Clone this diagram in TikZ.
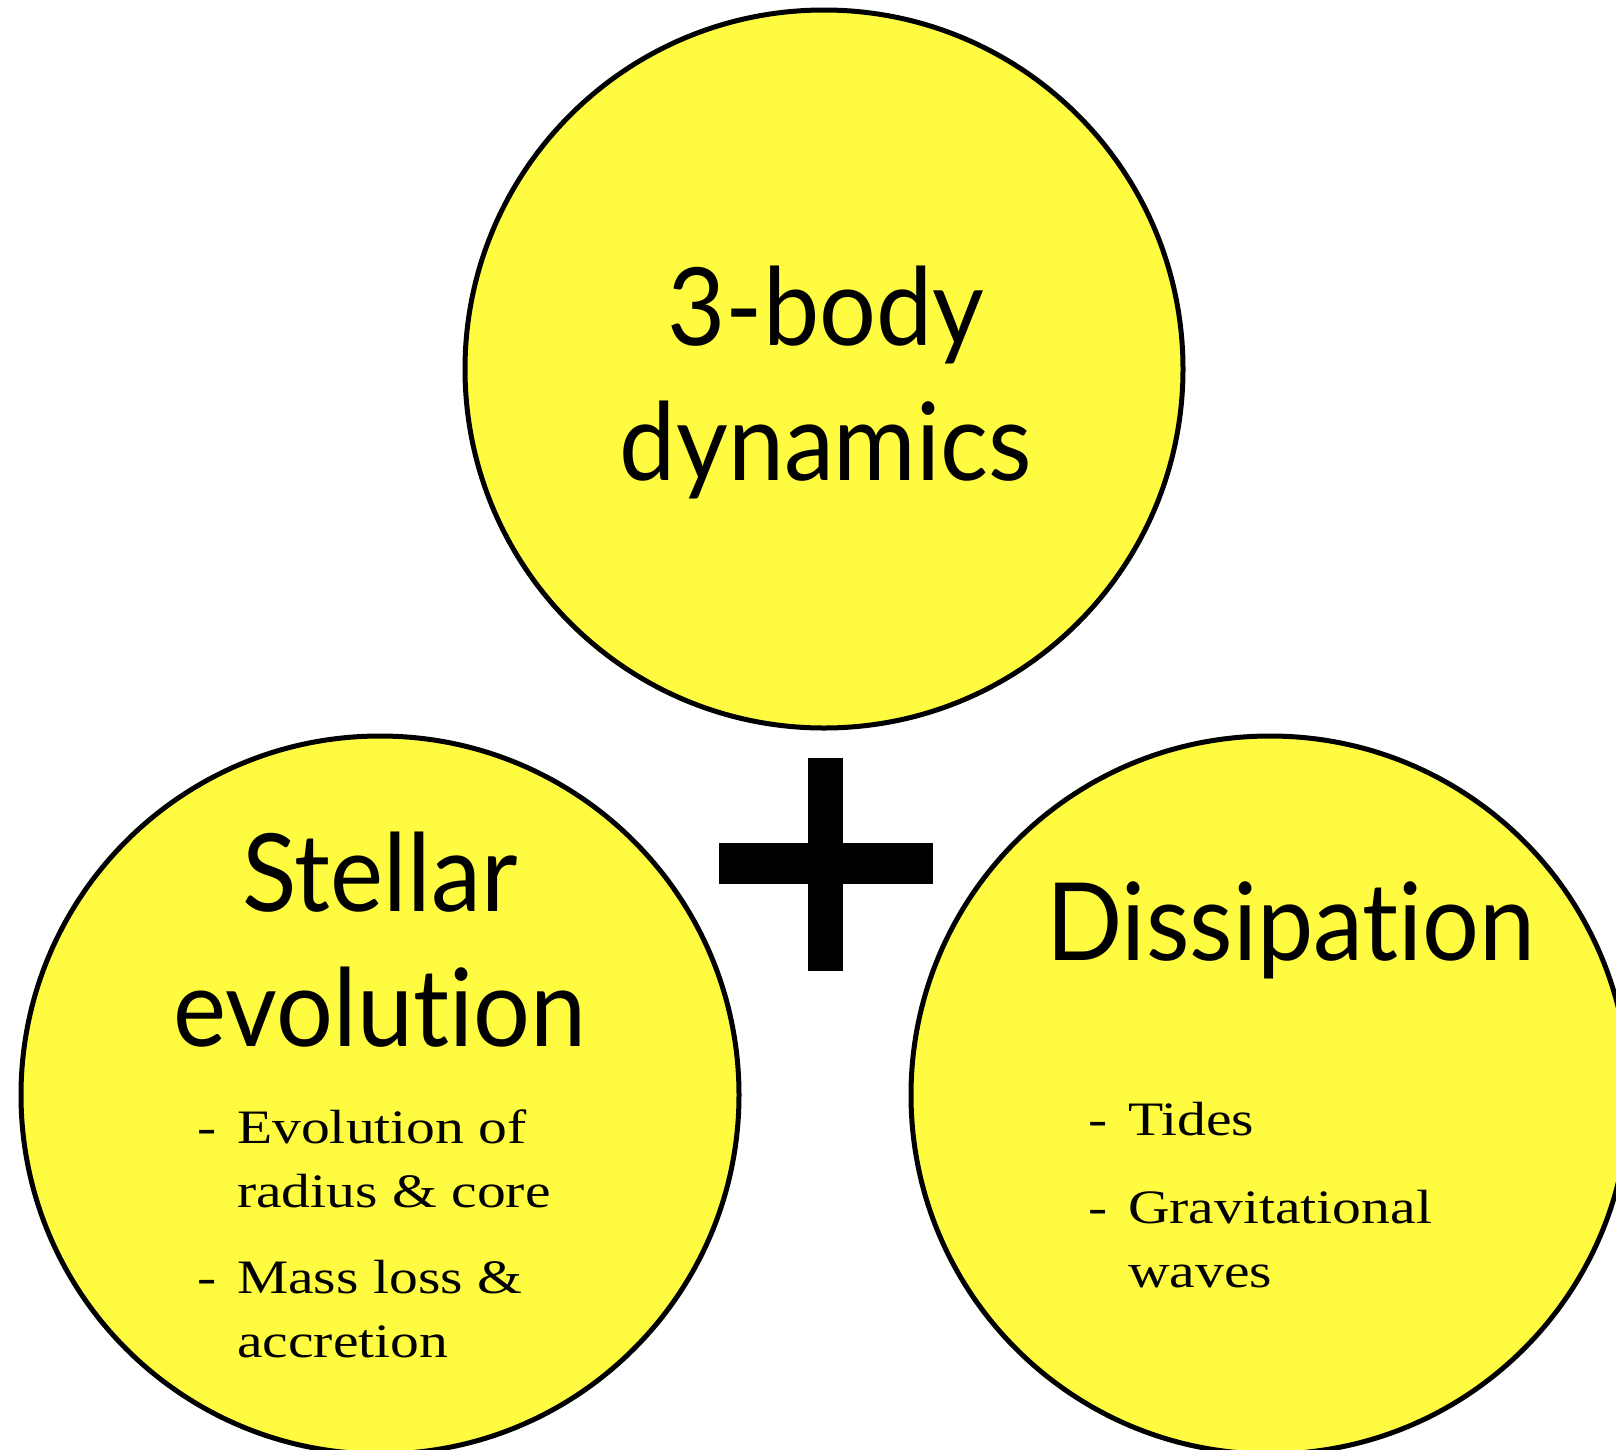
\documentclass[tikz,border=0pt]{standalone}
\usepackage{fontspec}
\setmainfont[FakeStretch=1.2]{Liberation Serif}
\newfontfamily\headfont[FakeStretch=0.93,Ligatures=NoCommon]{Lato}
\definecolor{sunyellow}{RGB}{255,251,64}
\begin{document}
\begin{tikzpicture}[x=1pt,y=-1pt,
  bubble/.style={circle, draw=black, line width=5pt, fill=sunyellow, minimum size=718pt, inner sep=0pt},
  heading/.style={font=\headfont\fontsize{108}{135}\selectfont, align=center, inner sep=0pt},
  bullettext/.style={font=\fontsize{48}{64}\selectfont, align=left, inner sep=0pt, anchor=base west},
  plusbar/.style={fill=black, inner sep=0pt, outer sep=0pt}
  ]
\useasboundingbox (0,0) rectangle (1616,1449);
\node[bubble] (top) at (824,369) {};
\node[bubble] (left) at (380,1095) {};
\node[bubble] (right) at (1270,1095) {};
\node[plusbar, minimum width=35pt, minimum height=213pt] (plusv) at (825.5,864.5) {};
\node[plusbar, minimum width=214pt, minimum height=41pt] (plush) at (826,863.5) {};
\node[heading, anchor=base] (toptitle) at (826,480) {3-body\\dynamics};
\node[heading, anchor=base] (lefttitle) at (380,1046) {Stellar\\evolution};
\node[heading, anchor=base] (righttitle) at (1291,960) {Dissipation};
\node[bullettext] (d1) at (197,1143) {-};
\node[bullettext] (t1) at (237,1207) {Evolution of\\radius \& core};
\node[bullettext] (d2) at (197,1293) {-};
\node[bullettext] (t2) at (237,1357) {Mass loss \&\\accretion};
\node[bullettext] (d3) at (1088,1135) {-};
\node[bullettext] (t3) at (1128,1135) {Tides};
\node[bullettext] (d4) at (1088,1223) {-};
\node[bullettext] (t4) at (1128,1287) {Gravitational\\waves};
\end{tikzpicture}
\end{document}
